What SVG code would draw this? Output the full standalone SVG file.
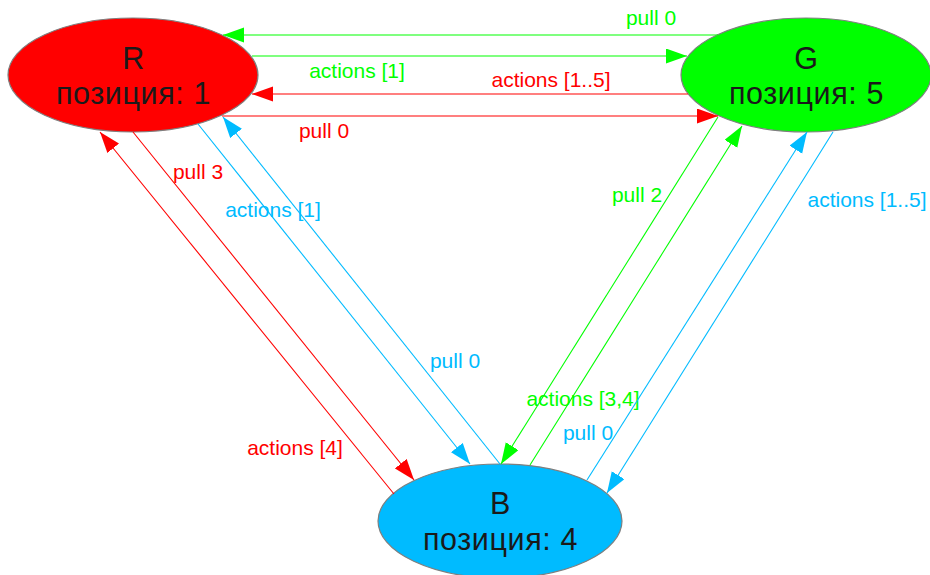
<svg xmlns="http://www.w3.org/2000/svg" width="930" height="575" viewBox="0 0 930 575">
  <style>
    .node ellipse { stroke: #7f7f7f; stroke-width: 1.2; }
    .node text { font-family: "Liberation Sans", Arial, sans-serif; font-size: 30.5px; letter-spacing: 0.6px; fill: #1a1a1a; text-anchor: middle; }
    .edge { fill: none; stroke-width: 1.1; }
    .lbl { font-family: "Liberation Sans", Arial, sans-serif; font-size: 21px; text-anchor: middle; }
    .r { stroke: #ff0000; }
    .g { stroke: #00ff00; }
    .b { stroke: #00bbff; }
    .tr { fill: #ff0000; }
    .tg { fill: #00ff00; }
    .tb { fill: #00bbff; }
  </style>
  <defs>
    <marker id="ar" markerUnits="userSpaceOnUse" markerWidth="22" markerHeight="16" refX="21" refY="7.5" orient="auto">
      <path d="M0,0 L21,7.5 L0,15 z" fill="#ff0000"/>
    </marker>
    <marker id="ag" markerUnits="userSpaceOnUse" markerWidth="22" markerHeight="16" refX="21" refY="7.5" orient="auto">
      <path d="M0,0 L21,7.5 L0,15 z" fill="#00ff00"/>
    </marker>
    <marker id="ab" markerUnits="userSpaceOnUse" markerWidth="22" markerHeight="16" refX="21" refY="7.5" orient="auto">
      <path d="M0,0 L21,7.5 L0,15 z" fill="#00bbff"/>
    </marker>
  </defs>
  <rect width="930" height="575" fill="#ffffff"/>

  <g id="node-R" class="node">
    <ellipse cx="133" cy="75" rx="125" ry="57" fill="#ff0000"/>
    <text x="133.5" y="69">R</text>
    <text x="133.5" y="104">позиция: 1</text>
  </g>
  <g id="node-G" class="node">
    <ellipse cx="806" cy="75" rx="125" ry="57" fill="#00ff00"/>
    <text x="806.5" y="69">G</text>
    <text x="806.5" y="104">позиция: 5</text>
  </g>
  <g id="node-B" class="node">
    <ellipse cx="500" cy="521" rx="122" ry="57" fill="#00bbff"/>
    <text x="500.5" y="514">B</text>
    <text x="500.5" y="550">позиция: 4</text>
  </g>

  <g id="connectors">
    <!-- G -> R pull 0 -->
    <line class="edge g" x1="718" y1="35" x2="223" y2="35" marker-end="url(#ag)"/>
    <text class="lbl tg" x="651" y="25">pull 0</text>
    <!-- R -> G actions [1] -->
    <line class="edge g" x1="252" y1="56" x2="687" y2="56" marker-end="url(#ag)"/>
    <text class="lbl tg" x="357" y="78">actions [1]</text>
    <!-- G -> R actions [1..5] -->
    <line class="edge r" x1="688" y1="94" x2="252" y2="94" marker-end="url(#ar)"/>
    <text class="lbl tr" x="551" y="87">actions [1..5]</text>
    <!-- R -> G pull 0 -->
    <line class="edge r" x1="222" y1="116" x2="718" y2="116" marker-end="url(#ar)"/>
    <text class="lbl tr" x="324" y="138">pull 0</text>

    <!-- R -> B pull 3 -->
    <line class="edge r" x1="133" y1="132" x2="414" y2="480" marker-end="url(#ar)"/>
    <text class="lbl tr" x="198" y="179">pull 3</text>
    <!-- B -> R actions [4] -->
    <line class="edge r" x1="394" y1="494" x2="100" y2="132" marker-end="url(#ar)"/>
    <text class="lbl tr" x="295" y="455">actions [4]</text>
    <!-- R -> B actions [1] -->
    <line class="edge b" x1="198" y1="124" x2="470" y2="464" marker-end="url(#ab)"/>
    <text class="lbl tb" x="273" y="217">actions [1]</text>
    <!-- B -> R pull 0 -->
    <line class="edge b" x1="500" y1="464" x2="223" y2="117" marker-end="url(#ab)"/>
    <text class="lbl tb" x="455" y="368">pull 0</text>

    <!-- G -> B pull 2 -->
    <line class="edge g" x1="718" y1="117" x2="501" y2="464" marker-end="url(#ag)"/>
    <text class="lbl tg" x="637" y="202">pull 2</text>
    <!-- B -> G actions [3,4] -->
    <line class="edge g" x1="530" y1="465" x2="742" y2="126" marker-end="url(#ag)"/>
    <text class="lbl tg" x="583" y="406">actions [3,4]</text>
    <!-- B -> G pull 0 -->
    <line class="edge b" x1="587" y1="480" x2="807" y2="132" marker-end="url(#ab)"/>
    <text class="lbl tb" x="588" y="440">pull 0</text>
    <!-- G -> B actions [1..5] -->
    <line class="edge b" x1="833" y1="132" x2="607" y2="493" marker-end="url(#ab)"/>
    <text class="lbl tb" x="867" y="207">actions [1..5]</text>
  </g>
</svg>
